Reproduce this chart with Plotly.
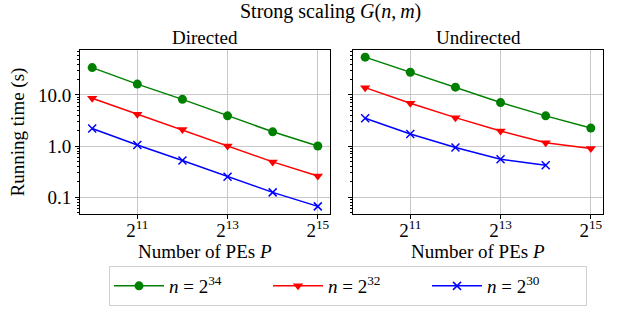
import plotly.graph_objects as go
import math

P = [1024, 2048, 4096, 8192, 16384, 32768]
P_blue_und = [1024, 2048, 4096, 8192, 16384]

dir_n34 = [34.3, 16.3, 8.2, 3.9, 1.9, 1.0]
dir_n32 = [8.6, 4.2, 2.1, 1.0, 0.49, 0.26]
dir_n30 = [2.2, 1.05, 0.52, 0.25, 0.124, 0.066]

und_n34 = [55.0, 27.8, 14.2, 7.1, 3.9, 2.25]
und_n32 = [13.9, 6.9, 3.6, 1.97, 1.16, 0.90]
und_n30 = [3.5, 1.72, 0.94, 0.55, 0.42]

series_names = ["<i>n</i> = 2<sup>34</sup>", "<i>n</i> = 2<sup>32</sup>", "<i>n</i> = 2<sup>30</sup>"]
colors = ["#008000", "#ff0000", "#0000ff"]
symbols = ["circle", "triangle-down", "x-thin"]

x_tickvals = [2048, 8192, 32768]
x_ticktext = ["2<sup>11</sup>", "2<sup>13</sup>", "2<sup>15</sup>"]
y_tickvals = [0.1, 1, 10]
y_ticktext = ["0.1", "1.0", "10.0"]
y_minor = [0.05, 0.06, 0.07, 0.08, 0.09] + [i / 10 for i in range(2, 10)] + list(range(2, 10)) + [20, 30, 40, 50, 60, 70]

FONT = "Liberation Serif"
FS = 19

fig = go.Figure()

def marker(i):
    if symbols[i] == "x-thin":
        return dict(symbol="x-thin", size=8, color=colors[i], line=dict(width=1.5, color=colors[i]))
    return dict(symbol=symbols[i], size=9, color=colors[i])

dir_data = [(P, dir_n34), (P, dir_n32), (P, dir_n30)]
und_data = [(P, und_n34), (P, und_n32), (P_blue_und, und_n30)]

for i, (xs, ys) in enumerate(dir_data):
    fig.add_trace(go.Scatter(x=xs, y=ys, mode="lines+markers", name=series_names[i],
                             line=dict(color=colors[i], width=1.5), marker=marker(i),
                             xaxis="x", yaxis="y", legendgroup=str(i), showlegend=True))
for i, (xs, ys) in enumerate(und_data):
    fig.add_trace(go.Scatter(x=xs, y=ys, mode="lines+markers", name=series_names[i],
                             line=dict(color=colors[i], width=1.5), marker=marker(i),
                             xaxis="x2", yaxis="y2", legendgroup=str(i), showlegend=False))

W, H = 619, 309

def px(x):
    return x / W

def py(y):
    return 1 - y / H

x1 = [px(80), px(330)]
x2 = [px(353), px(603)]
ydom = [py(214), py(50)]

xr = [9.73 * math.log10(2), 15.27 * math.log10(2)]
yr = [-1.33, 1.88]

tfont = dict(family=FONT, size=FS, color="black")

axis_common = dict(showline=True, mirror=True, linecolor="black", linewidth=1,
                   showgrid=True, gridcolor="#c8c8c8", gridwidth=1, zeroline=False,
                   tickfont=tfont)

xax = dict(axis_common, type="log", range=xr, tickmode="array", tickvals=x_tickvals,
           ticktext=x_ticktext, ticks="outside", ticklen=4, tickcolor="black",
           ticklabelstandoff=-5)
yax = dict(axis_common, type="log", range=yr, tickmode="array", tickvals=y_tickvals,
           ticks="outside", ticklen=4, tickcolor="black",
           minor=dict(tickvals=y_minor, ticks="outside", ticklen=2, tickcolor="black", showgrid=False))

def ann(text, x, y, size=FS):
    return dict(text=text, x=x, y=y, xref="paper", yref="paper", showarrow=False,
                font=dict(family=FONT, size=size, color="black"), xanchor="center", yanchor="middle")

fig.update_layout(
    width=W, height=H,
    margin=dict(l=0, r=0, t=0, b=0, autoexpand=False),
    paper_bgcolor="white", plot_bgcolor="white",
    font=tfont,
    xaxis=dict(xax, domain=x1, anchor="y"),
    xaxis2=dict(xax, domain=x2, anchor="y2"),
    yaxis=dict(yax, domain=ydom, anchor="x", ticktext=y_ticktext,
               title=dict(text="Running time (s)", font=tfont, standoff=8)),
    yaxis2=dict(yax, domain=ydom, anchor="x2", matches="y", showticklabels=False),
    showlegend=True,
    legend=dict(orientation="h", x=px(348), xanchor="center", y=py(306), yanchor="bottom",
                bordercolor="#d0d0d0", borderwidth=1, bgcolor="white",
                font=tfont, itemwidth=50, entrywidth=94, tracegroupgap=0),
    annotations=[
        ann("Strong scaling <i>G</i>(<i>n</i>,\u2009<i>m</i>)", px(330), py(12), size=20),
        ann("Directed", (x1[0] + x1[1]) / 2, py(37)),
        ann("Undirected", (x2[0] + x2[1]) / 2, py(37)),
        ann("Number of PEs <i>P</i>", (x1[0] + x1[1]) / 2, py(251)),
        ann("Number of PEs <i>P</i>", (x2[0] + x2[1]) / 2, py(251)),
    ],
)

fig.write_html("out.html", config={"displayModeBar": False},
               post_script="document.body.style.margin='0px';")
